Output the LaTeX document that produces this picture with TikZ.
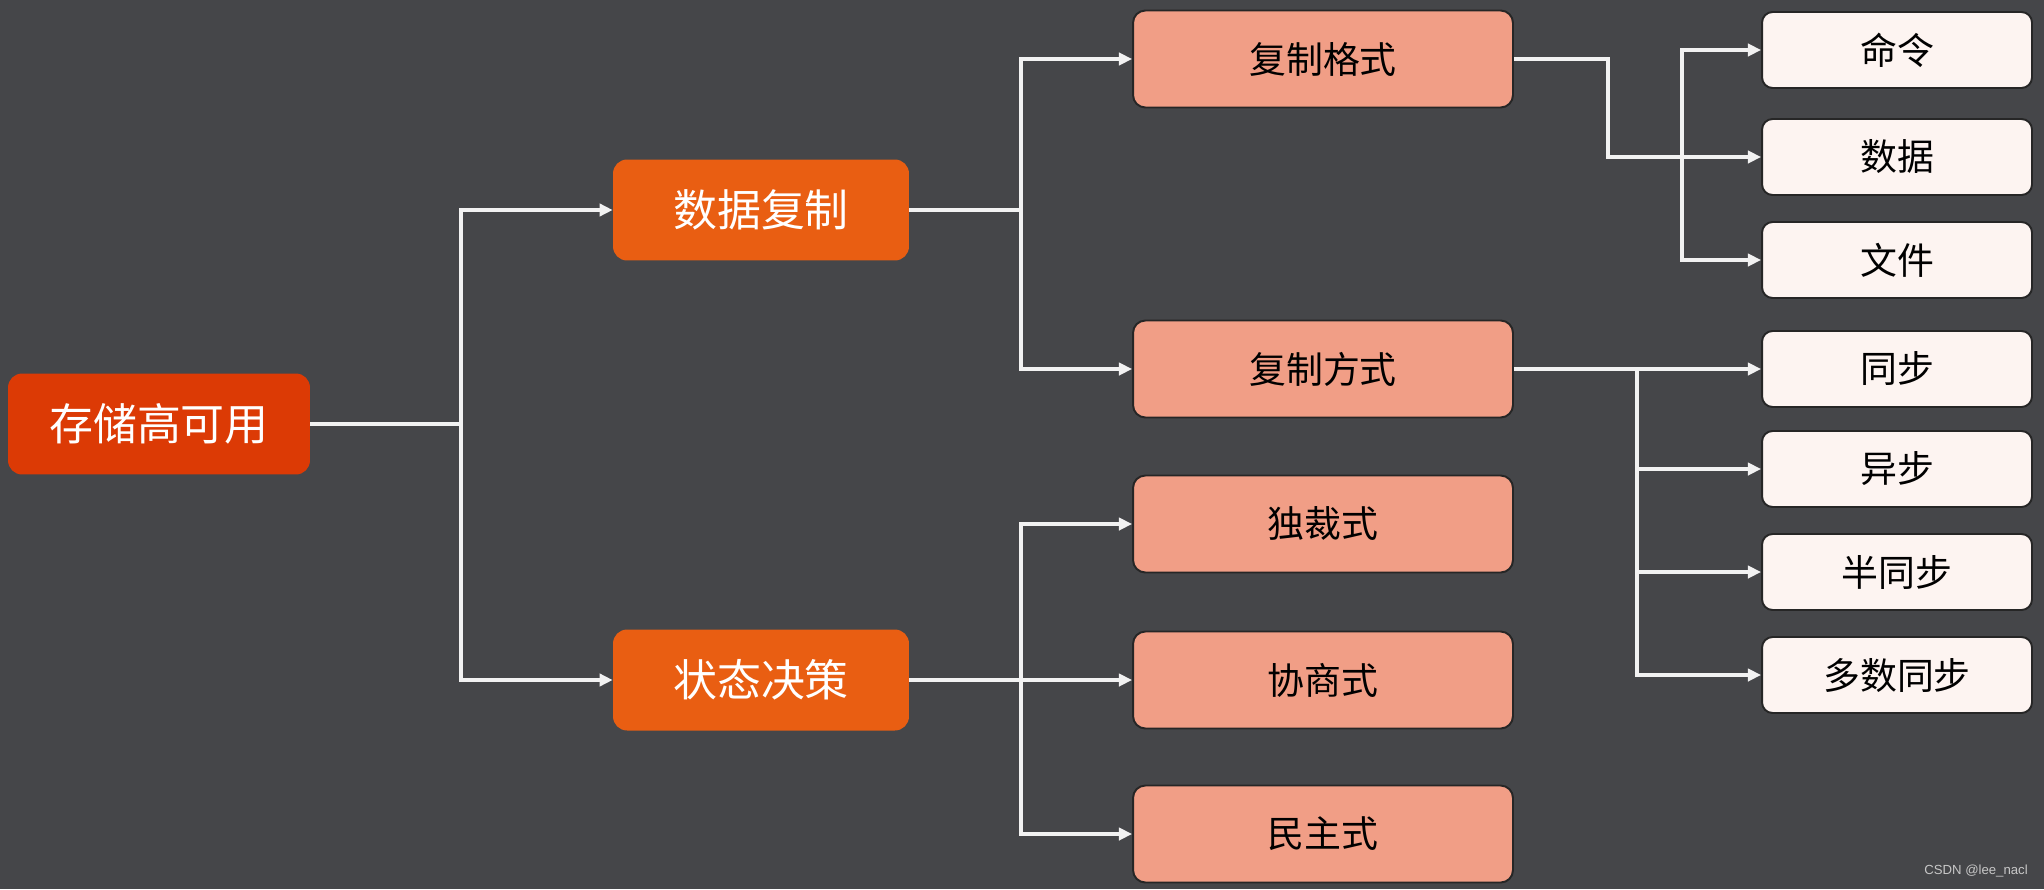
\documentclass[tikz,border=0pt]{standalone}
\usepackage{fontspec}
\setmainfont{Noto Sans CJK SC}
\newfontfamily\wmfont{Liberation Sans}
\usetikzlibrary{arrows.meta}
\definecolor{bgcol}{HTML}{454649}
\definecolor{rootcol}{HTML}{DC3A05}
\definecolor{lvone}{HTML}{E95E12}
\definecolor{lvtwo}{HTML}{F19E86}
\definecolor{lvthree}{HTML}{FDF4F1}
\definecolor{linecol}{HTML}{F2F2F2}

\begin{document}
\begin{tikzpicture}[x=0.02cm,y=-0.02cm,>={Triangle[length=7.5pt,width=7pt]},
  line/.style={draw=linecol,line width=2.2pt},
  bigbox/.style={rounded corners=8pt,inner sep=0pt,text=white,
    font=\fontsize{25}{30}\selectfont,minimum width=5.92cm,minimum height=2.02cm},
  midbox/.style={rounded corners=7pt,inner sep=0pt,fill=lvtwo,draw=black!85,line width=1.1pt,
    font=\fontsize{21}{25}\selectfont,minimum width=7.6cm,minimum height=1.94cm},
  leafbox/.style={rounded corners=6pt,inner sep=0pt,fill=lvthree,draw=black!85,line width=1.1pt,
    font=\fontsize{21}{25}\selectfont,minimum width=5.4cm,minimum height=1.52cm}]
  \fill[bgcol] (0,0) rectangle (2044,889);
  % left part
  \node[bigbox,fill=rootcol,minimum width=6.04cm] (root) at (159,424) {存储高可用};
  \node[bigbox,fill=lvone] (rep) at (761,210) {数据复制};
  \node[bigbox,fill=lvone] (dec) at (761,680) {状态决策};
  % middle column
  \node[midbox] (fmt) at (1323,59) {复制格式};
  \node[midbox] (mode) at (1323,369) {复制方式};
  \node[midbox] (dict) at (1323,524) {独裁式};
  \node[midbox] (nego) at (1323,680) {协商式};
  \node[midbox] (demo) at (1323,834) {民主式};
  % right column
  \node[leafbox] (cmd) at (1897,50) {命令};
  \node[leafbox] (data) at (1897,157) {数据};
  \node[leafbox] (file) at (1897,260) {文件};
  \node[leafbox] (sync) at (1897,369) {同步};
  \node[leafbox] (async) at (1897,469) {异步};
  \node[leafbox] (semi) at (1897,572) {半同步};
  \node[leafbox] (major) at (1897,675) {多数同步};
  \node[text=black!22,font=\wmfont\fontsize{7.5}{9}\selectfont] (wm) at (1976,871) {CSDN @lee\_nacl};
  % junctions
  \coordinate (j1) at (461,424);
  \coordinate (j2) at (1021,210);
  \coordinate (j3) at (1021,680);
  \coordinate (fb) at (1608,157);
  \coordinate (fj) at (1682,157);
  \coordinate (mj) at (1637,369);
  \draw[line] (root.east) -- (j1);
  \draw[line,->] (j1) |- (rep.west);
  \draw[line,->] (j1) |- (dec.west);
  \draw[line] (rep.east) -- (j2);
  \draw[line,->] (j2) |- (fmt.west);
  \draw[line,->] (j2) |- (mode.west);
  \draw[line] (dec.east) -- (j3);
  \draw[line,->] (j3) |- (dict.west);
  \draw[line,->] (j3) -- (nego.west);
  \draw[line,->] (j3) |- (demo.west);
  \draw[line,->] (fmt.east) -| (fb) -- (data.west);
  \draw[line,->] (fj) |- (cmd.west);
  \draw[line,->] (fj) |- (file.west);
  \draw[line] (mode.east) -- (mj);
  \draw[line,->] (mj) -- (sync.west);
  \draw[line,->] (mj) |- (async.west);
  \draw[line,->] (mj) |- (semi.west);
  \draw[line,->] (mj) |- (major.west);
\end{tikzpicture}
\end{document}
